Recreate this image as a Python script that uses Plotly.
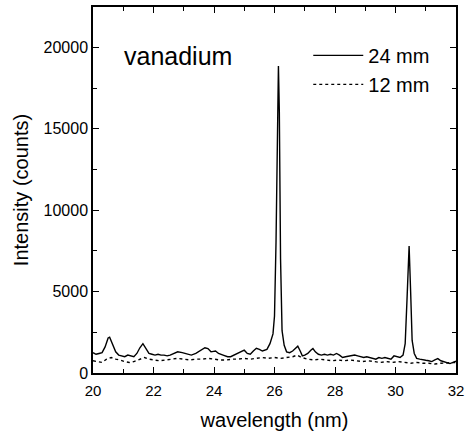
import plotly.graph_objects as go

wl_24 = [20.00,20.10,20.20,20.30,20.40,20.50,20.55,20.65,20.75,20.85,20.95,21.05,21.15,21.25,21.35,21.45,21.55,21.65,21.75,21.85,21.95,22.05,22.15,22.25,22.35,22.45,22.55,22.65,22.80,22.95,23.05,23.15,23.25,23.40,23.55,23.70,23.80,23.90,24.05,24.15,24.30,24.45,24.55,24.70,24.85,25.00,25.10,25.20,25.30,25.40,25.50,25.60,25.75,25.85,25.95,26.00,26.05,26.10,26.13,26.16,26.20,26.25,26.32,26.40,26.50,26.60,26.70,26.77,26.85,26.92,27.00,27.10,27.20,27.27,27.35,27.45,27.55,27.65,27.75,27.85,27.95,28.05,28.15,28.25,28.35,28.50,28.65,28.75,28.85,28.95,29.05,29.15,29.25,29.35,29.45,29.55,29.65,29.75,29.85,29.95,30.05,30.15,30.25,30.32,30.38,30.45,30.50,30.55,30.62,30.70,30.80,30.90,31.00,31.10,31.20,31.30,31.40,31.50,31.60,31.70,31.80,31.90,32.00]
int_24 = [1250,1150,1200,1250,1600,2150,2200,1800,1300,1100,1050,1000,1100,1050,1000,1200,1550,1800,1500,1200,1150,1100,1150,1100,1100,1050,1100,1200,1300,1250,1200,1150,1100,1200,1350,1550,1500,1300,1350,1200,1100,1000,1000,1150,1250,1400,1200,1150,1350,1520,1450,1350,1450,1800,2400,3500,8000,16000,18850,16000,7000,2600,1700,1300,1250,1350,1550,1650,1350,1050,1100,1200,1400,1500,1300,1150,1100,1150,1100,1150,1100,1200,1100,950,1000,1050,1100,1050,1000,950,1000,950,900,850,950,900,950,900,850,1050,1000,950,1100,1800,4500,7800,5000,2000,1200,900,850,800,780,750,700,800,880,750,700,650,580,650,720]

wl_12 = [20.00,20.15,20.30,20.45,20.60,20.75,20.90,21.05,21.20,21.35,21.55,21.70,21.85,22.00,22.20,22.40,22.60,22.80,23.00,23.20,23.40,23.60,23.80,24.00,24.20,24.40,24.60,24.80,25.00,25.20,25.40,25.60,25.80,26.00,26.20,26.40,26.60,26.75,26.90,27.10,27.30,27.50,27.70,27.90,28.10,28.30,28.50,28.70,28.90,29.10,29.30,29.50,29.70,29.90,30.10,30.30,30.50,30.70,30.90,31.10,31.30,31.50,31.70,31.90,32.00]
int_12 = [750,700,650,850,950,850,800,700,650,700,850,950,850,800,750,800,850,900,850,800,850,850,900,850,800,800,850,850,900,850,900,950,900,950,900,950,1000,1100,950,850,800,850,800,750,800,750,800,750,700,750,700,650,700,650,700,650,600,650,600,600,550,600,620,650,650]

x_ticks = [20, 22, 24, 26, 28, 30, 32]
x_labels = ["20", "22", "24", "26", "28", "30", "32"]
y_ticks = [0, 5000, 10000, 15000, 20000]
y_labels = ["0", "5000", "10000", "15000", "20000"]

FONT = "Liberation Sans, Arial, sans-serif"

fig = go.Figure()
fig.add_trace(go.Scatter(x=wl_24, y=int_24, mode="lines", name="24 mm",
                         line=dict(color="black", width=1.4)))
fig.add_trace(go.Scatter(x=wl_12, y=int_12, mode="lines", name="12 mm",
                         line=dict(color="black", width=1.4, dash="dot")))

axis_common = dict(showline=True, linecolor="black", linewidth=1.5, mirror="allticks",
                   ticks="inside", ticklen=6, tickwidth=1.2, tickcolor="black",
                   showgrid=False, zeroline=False, automargin=False)

fig.update_xaxes(range=[20, 32], tickvals=x_ticks, ticktext=x_labels, ticklabelstandoff=3,
                 tickfont=dict(family=FONT, size=15, color="black"),
                 minor=dict(ticks="inside", ticklen=4, tickwidth=1.2, tickcolor="black", dtick=1, showgrid=False),
                 title=dict(text="wavelength (nm)", font=dict(family=FONT, size=20, color="black"), standoff=15),
                 **axis_common)
fig.update_yaxes(range=[0, 22480], tickvals=y_ticks, ticktext=y_labels,
                 tickfont=dict(family=FONT, size=16, color="black"),
                 minor=dict(ticks="inside", ticklen=4, tickwidth=1.2, tickcolor="black", dtick=2500, showgrid=False),
                 title=dict(text="Intensity (counts)", font=dict(family=FONT, size=20, color="black"), standoff=10),
                 **axis_common)

fig.add_annotation(x=22.8, y=19500, xref="x", yref="y", text="vanadium", showarrow=False,
                   font=dict(family=FONT, size=25, color="black"))

fig.update_layout(
    width=467, height=435,
    margin=dict(l=93, r=11, t=7, b=62),
    plot_bgcolor="white", paper_bgcolor="white",
    showlegend=True,
    legend=dict(x=0.593, y=0.921, xanchor="left", yanchor="top",
                bgcolor="rgba(0,0,0,0)", borderwidth=0,
                font=dict(family=FONT, size=20, color="black"),
                tracegroupgap=0, itemwidth=50),
)

fig.write_html("out.html", config={"displayModeBar": False},
               post_script="document.body.style.margin='0';")
